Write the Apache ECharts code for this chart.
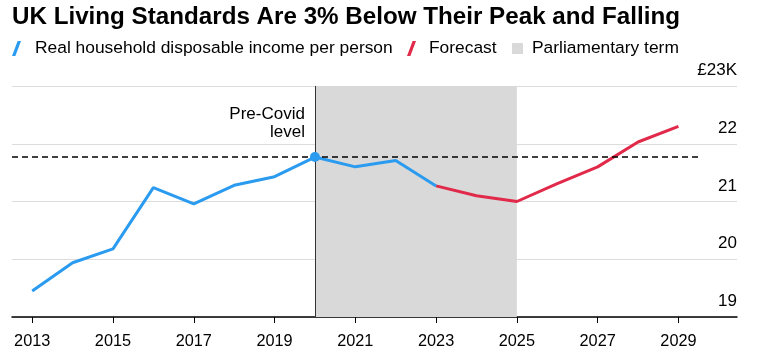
<!DOCTYPE html>
<html>
<head>
<meta charset="utf-8">
<script src="https://cdn.jsdelivr.net/npm/echarts@6/dist/echarts.min.js"></script>
<style>html,body{margin:0;padding:0;background:#fff}#c{width:763px;height:360px}</style>
</head>
<body>
<div id="c"></div>
<script>
var actualYears = [2013, 2014, 2015, 2016, 2017, 2018, 2019, 2020, 2021, 2022, 2023];
var actualValues = [19.45, 19.94, 20.18, 21.24, 20.96, 21.28, 21.43, 21.77, 21.60, 21.71, 21.27];
var forecastYears = [2023, 2024, 2025, 2026, 2027, 2028, 2029];
var forecastValues = [21.27, 21.10, 21.00, 21.31, 21.60, 22.03, 22.30];
var xTickLabels = [2013, 2015, 2017, 2019, 2021, 2023, 2025, 2027, 2029];
var termStart = 2020, termEnd = 2025;
var preCovidYear = 2020, preCovidLevel = 21.77;

var BLUE = '#2b9bf0', RED = '#e1294a', GREY = '#d9d9d9';
var FONT = 'Liberation Sans, Arial, sans-serif';
var slash = 'path://M0,15 L3.4,15 L9,0 L5.6,0 Z';

function zip(xs, ys) { return xs.map(function (x, i) { return [x, ys[i]]; }); }

var chart = echarts.init(document.getElementById('c'));
chart.setOption({
  animation: false,
  title: {
    text: 'UK Living Standards Are 3% Below Their Peak and Falling',
    left: 12, top: 5, padding: 0,
    textStyle: { fontFamily: FONT, fontSize: 24.2, fontWeight: 'bold', color: '#000' }
  },
  legend: [
    { left: 12, top: 40, padding: 0, itemWidth: 9, itemHeight: 17, selectedMode: false,
      data: [{ name: 'Real household disposable income per person', icon: slash }],
      textStyle: { fontFamily: FONT, fontSize: 17.4, color: '#000', padding: [0, 0, 0, 9] } },
    { left: 407, top: 40, padding: 0, itemWidth: 9, itemHeight: 17, selectedMode: false,
      data: [{ name: 'Forecast', icon: slash }],
      textStyle: { fontFamily: FONT, fontSize: 17.4, color: '#000', padding: [0, 0, 0, 8] } },
    { left: 512, top: 40, padding: 0, itemWidth: 11, itemHeight: 11, selectedMode: false,
      data: [{ name: 'Parliamentary term', icon: 'rect' }],
      textStyle: { fontFamily: FONT, fontSize: 17.4, color: '#000', padding: [0, 0, 0, 4] } }
  ],
  grid: { left: 12, right: 26, top: 86, bottom: 43, containLabel: false },
  xAxis: {
    type: 'value', min: 2012.5, max: 2030.45,
    axisLine: { show: true, lineStyle: { color: '#000', width: 1.5 } },
    axisTick: { show: true, length: 6, lineStyle: { color: '#000', width: 1 }, customValues: xTickLabels },
    axisLabel: { customValues: xTickLabels, margin: 17, fontFamily: FONT, fontSize: 16.3, color: '#000',
      formatter: function (v) { return String(v); } },
    splitLine: { show: false }
  },
  yAxis: {
    type: 'value', min: 19, max: 23, interval: 1, position: 'right',
    axisLine: { show: false }, axisTick: { show: false },
    axisLabel: { inside: true, margin: 0, verticalAlign: 'bottom', padding: [0, 0, 7, 0],
      fontFamily: FONT, fontSize: 17, color: '#000',
      formatter: function (v) { return v === 23 ? '£23K' : String(v); } },
    splitLine: { show: true, lineStyle: { color: '#dcdcdc', width: 1 } }
  },
  series: [
    {
      name: 'Parliamentary term', type: 'line', data: [], itemStyle: { color: GREY },
      markArea: { silent: true, itemStyle: { color: GREY },
        data: [[{ xAxis: termStart }, { xAxis: termEnd }]] }
    },
    {
      name: 'Real household disposable income per person', type: 'line',
      data: zip(actualYears, actualValues), showSymbol: false, z: 3,
      lineStyle: { color: BLUE, width: 3 }, itemStyle: { color: BLUE },
      markLine: { silent: true, symbol: 'none', label: { show: false },
        data: [
          { xAxis: preCovidYear, lineStyle: { color: '#333', width: 1, type: 'solid' } },
          [{ coord: [2012.5, preCovidLevel] }, { coord: [2029.55, preCovidLevel] }]
        ],
        lineStyle: { color: '#000', width: 1.5, type: [6, 4] } },
      markPoint: { silent: true,
        data: [
          { coord: [preCovidYear, preCovidLevel], symbol: 'circle', symbolSize: 10, itemStyle: { color: BLUE }, label: { show: false } },
          { coord: [preCovidYear, 22.35], symbol: 'circle', symbolSize: 0,
            label: { show: true, position: 'left', distance: 10, formatter: 'Pre-Covid\nlevel', align: 'right',
              fontFamily: FONT, fontSize: 17, lineHeight: 18, color: '#000' } }
        ] }
    },
    {
      name: 'Forecast', type: 'line', data: zip(forecastYears, forecastValues), showSymbol: false, z: 2,
      lineStyle: { color: RED, width: 3 }, itemStyle: { color: RED }
    }
  ]
});
</script>
</body>
</html>
